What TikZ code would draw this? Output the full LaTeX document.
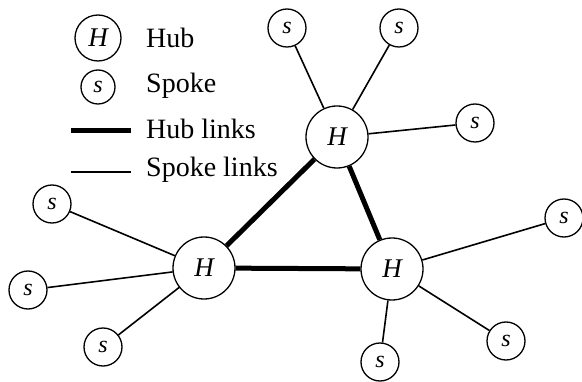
\documentclass[tikz,border=0pt]{standalone}
\usepackage{fontspec}
\setmainfont{Liberation Serif}
\begin{document}
\begin{tikzpicture}[x=1pt,y=-1pt,
  hubnode/.style={circle,draw,line width=1.3pt,minimum size=62pt,inner sep=0pt,fill=white,font=\fontsize{27}{27}\selectfont\itshape},
  spokenode/.style={circle,draw,line width=1.3pt,minimum size=38pt,inner sep=0pt,fill=white,font=\fontsize{24}{24}\selectfont\itshape},
  lhub/.style={hubnode,minimum size=46pt},
  lspoke/.style={spokenode,minimum size=34pt},
  hublink/.style={line width=5pt},
  spokelink/.style={line width=1.6pt},
  lab/.style={anchor=west,inner sep=0pt,font=\fontsize{28}{28}\selectfont}]
\useasboundingbox (0,0) rectangle (582,382);
% legend
\node[lhub] (lh) at (98,38) {H};
\node[lab] (lht) at (146,38) {Hub};
\node[lspoke] (ls) at (98,87) {s};
\node[lab] (lst) at (146,86) {Spoke};
\coordinate (hl1) at (71,131);
\coordinate (hl2) at (131,131);
\draw[hublink] (hl1) -- (hl2);
\node[lab] (hlt) at (146,129) {Hub links};
\coordinate (sl1) at (71,172);
\coordinate (sl2) at (131,172);
\draw[spokelink] (sl1) -- (sl2);
\node[lab] (slt) at (146,170) {Spoke links};
% hubs
\node[hubnode] (ht) at (337,137) {H};
\node[hubnode] (hl) at (204,268) {H};
\node[hubnode] (hr) at (392,269) {H};
% spokes
\node[spokenode] (t1) at (287,28) {s};
\node[spokenode] (t2) at (399,28) {s};
\node[spokenode] (t3) at (475,123) {s};
\node[spokenode] (l1) at (52,204) {s};
\node[spokenode] (l2) at (28,290) {s};
\node[spokenode] (l3) at (103,347) {s};
\node[spokenode] (r1) at (564,218) {s};
\node[spokenode] (r2) at (506,341) {s};
\node[spokenode] (r3) at (380,362) {s};
% links
\draw[hublink] (ht) -- (hl);
\draw[hublink] (ht) -- (hr);
\draw[hublink] (hl) -- (hr);
\foreach \s in {t1,t2,t3} \draw[spokelink] (\s) -- (ht);
\foreach \s in {l1,l2,l3} \draw[spokelink] (\s) -- (hl);
\foreach \s in {r1,r2,r3} \draw[spokelink] (\s) -- (hr);
\end{tikzpicture}
\end{document}
